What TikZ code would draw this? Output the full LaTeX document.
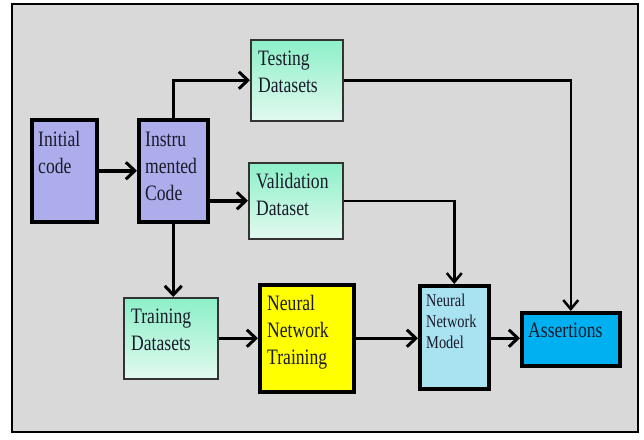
\documentclass[tikz,border=0pt]{standalone}
\usepackage{fontspec}
\setmainfont{Liberation Serif}[FakeStretch=0.8]
\usetikzlibrary{arrows.meta}
\definecolor{bgray}{HTML}{D9D9D9}
\definecolor{purp}{HTML}{ADADEC}
\definecolor{mintA}{HTML}{8CF0C8}
\definecolor{mintB}{HTML}{E2F9EF}
\definecolor{nnmblue}{HTML}{A9E3F2}
\definecolor{assblue}{HTML}{00B0F0}
\definecolor{yel}{HTML}{FFFF00}
\definecolor{ink}{HTML}{1A1A2A}
\newcommand\twolines[2]{\vtop{\hbox{#1}\hbox{#2}}}
\newcommand\threelines[3]{\vtop{\hbox{#1}\hbox{#2}\hbox{#3}}}
\tikzset{
  boxbase/.style={rectangle, inner sep=0pt, anchor=north west},
  purpbox/.style={boxbase, fill=purp, draw=black, line width=3.5pt},
  greenbox/.style={boxbase, top color=mintA, bottom color=mintB, draw=black!80, line width=1.5pt},
  yelbox/.style={boxbase, fill=yel, draw=black, line width=4pt},
  nnmbox/.style={boxbase, fill=nnmblue, draw=black, line width=3.5pt},
  assbox/.style={boxbase, fill=assblue, draw=black, line width=3.5pt},
  txt/.style={anchor=base west, inner sep=0pt, text=ink, font=\fontsize{22}{27}\selectfont},
  smalltxt/.style={anchor=base west, inner sep=0pt, text=ink, font=\fontsize{18}{21}\selectfont},
  arr/.style={-{Straight Barb[length=9pt,width=17pt,line width=3pt]}, line width=3.5pt},
  thinarr/.style={-{Straight Barb[length=9pt,width=15pt,line width=2.5pt]}, line width=2.5pt},
}
\begin{document}
\begin{tikzpicture}[x=1pt,y=-1pt]
\useasboundingbox (0,0) rectangle (644,439);
\fill[white] (0,0) rectangle (644,439);
\draw[fill=bgray, line width=2pt] (12,4) rectangle (638,432);

\node[purpbox, minimum width=65pt, minimum height=102pt] (init) at (30,118) {};
\node[purpbox, minimum width=69pt, minimum height=102pt] (instr) at (137,118) {};
\node[greenbox, minimum width=92pt, minimum height=81pt] (test) at (250,39) {};
\node[greenbox, minimum width=94pt, minimum height=76pt] (valid) at (248,162) {};
\node[greenbox, minimum width=94pt, minimum height=81pt] (train) at (123,297) {};
\node[yelbox, minimum width=94pt, minimum height=107pt] (nnt) at (258,283) {};
\node[nnmbox, minimum width=69pt, minimum height=103pt] (nnm) at (418,284) {};
\node[assbox, minimum width=98pt, minimum height=53pt] (ass) at (520,311) {};

\node[txt] (tinit) at ([shift={(8,28)}]init.north west) {\twolines{Initial}{code}};
\node[txt] (tinstr) at ([shift={(8,28)}]instr.north west) {\threelines{Instru}{mented}{Code}};
\node[txt] (ttest) at ([shift={(8,26)}]test.north west) {\twolines{Testing}{Datasets}};
\node[txt] (tvalid) at ([shift={(8,26)}]valid.north west) {\twolines{Validation}{Dataset}};
\node[txt] (ttrain) at ([shift={(8,26)}]train.north west) {\twolines{Training}{Datasets}};
\node[txt] (tnnt) at ([shift={(9,27)}]nnt.north west) {\threelines{Neural}{Network}{Training}};
\node[smalltxt] (tnnm) at ([shift={(8,22)}]nnm.north west) {\threelines{Neural}{Network}{Model}};
\node[txt] (tass) at ([shift={(8,26)}]ass.north west) {Assertions};

\draw[arr] (init.east) -- (instr.west);
\draw[arr] (instr.north) |- (test.west);
\draw[arr] (instr.east |- valid.west) -- (valid.west);
\draw[arr] (instr.south) -- (instr.south |- train.north);
\draw[arr] (train.east) -- (train.east -| nnt.west);
\draw[arr] (nnt.east |- train.east) -- (nnm.west |- train.east);
\draw[arr] (nnm.east |- train.east) -- (ass.west |- train.east);
\draw[thinarr, line join=miter] (test.east) -| (ass.north);
\draw[thinarr, line join=miter] (valid.east) -| (nnm.north);
\end{tikzpicture}
\end{document}
